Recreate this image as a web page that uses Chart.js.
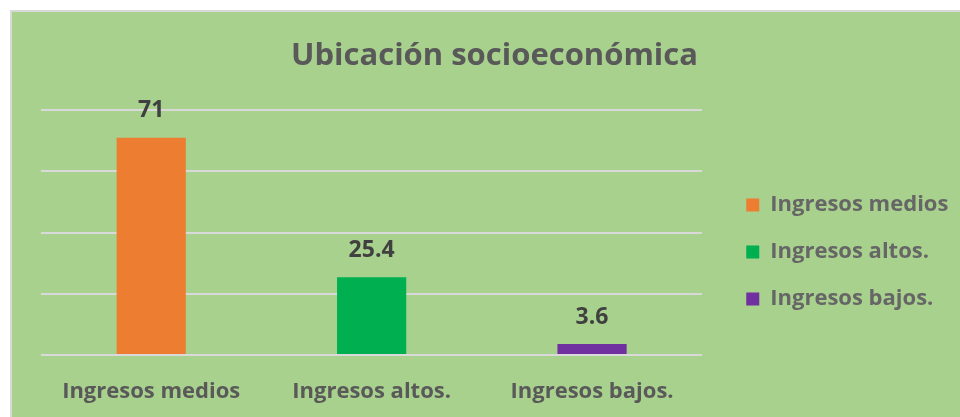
<!DOCTYPE html>
<html>
<head>
<meta charset="utf-8">
<script src="https://cdn.jsdelivr.net/npm/chart.js@4.4.1/dist/chart.umd.min.js"></script>
<style>
    html, body { margin: 0; padding: 0; background: #ffffff; }
    #wrap {
        position: absolute; left: 10px; top: 10px; width: 948px; height: 405px;
        background: #a9d18e; border-top: 2px solid #d9d9d9; border-left: 2px solid #d9d9d9;
    }
    canvas { display: block; }
</style>
</head>
<body>
<div id="wrap"><canvas id="socioChart" width="948" height="405"></canvas></div>
<script>
const categories = ["Ingresos medios", "Ingresos altos.", "Ingresos bajos."];
const percentages = [71, 25.4, 3.6];
const barColors = ["#ed7d31", "#00b050", "#7030a0"];
const chartTitle = "Ubicación socioeconómica";

const FONT = "'Open Sans', sans-serif";

// labels above each bar
const valueLabels = {
    id: "valueLabels",
    afterDatasetsDraw(chart) {
        const ctx = chart.ctx;
        const meta = chart.getDatasetMeta(0);
        ctx.save();
        ctx.font = `bold 23px ${FONT}`;
        ctx.fillStyle = "#404040";
        ctx.textAlign = "center";
        ctx.textBaseline = "middle";
        meta.data.forEach((bar, i) => {
            ctx.fillText(String(percentages[i]), bar.x, bar.y - 27);
        });
        ctx.restore();
    },
};

new Chart(document.getElementById("socioChart").getContext("2d"), {
    type: "bar",
    data: {
        labels: categories,
        datasets: [{
            label: chartTitle,
            data: percentages,
            backgroundColor: barColors,
            borderWidth: 0,
            barPercentage: 0.314,
            categoryPercentage: 1,
        }],
    },
    options: {
        responsive: false,
        animation: false,
        layout: { padding: { left: 29, right: 12, top: 0, bottom: 0 } },
        plugins: {
            title: {
                display: true,
                text: chartTitle,
                color: "#595959",
                font: { family: FONT, size: 31, weight: "bold" },
                padding: { top: 26, bottom: 35 },
            },
            legend: {
                position: "right",
                title: { display: true, text: " ", font: { size: 1 }, padding: { top: 74, bottom: 0 } },
                labels: {
                    color: "#595959",
                    font: { family: FONT, size: 22, weight: "bold" },
                    boxWidth: 13,
                    boxHeight: 13,
                    padding: 25,
                    generateLabels: () => categories.map((c, i) => ({
                        text: c,
                        fillStyle: barColors[i],
                        strokeStyle: barColors[i],
                        lineWidth: 0,
                        index: i,
                    })),
                },
            },
            tooltip: { enabled: false },
        },
        scales: {
            x: {
                grid: { display: false, drawTicks: false },
                border: { display: false },
                ticks: { color: "#595959", padding: 24, font: { family: FONT, size: 22, weight: "bold" } },
                afterFit(scale) { scale.height = 62; },
            },
            y: {
                position: "right",
                min: 0,
                max: 80,
                ticks: { display: false, stepSize: 20 },
                grid: { color: "#d9d9d9", lineWidth: 2, drawTicks: false },
                border: { display: false },
                afterFit(scale) { scale.width = 19; },
            },
        },
    },
    plugins: [valueLabels],
});
</script>
</body>
</html>
